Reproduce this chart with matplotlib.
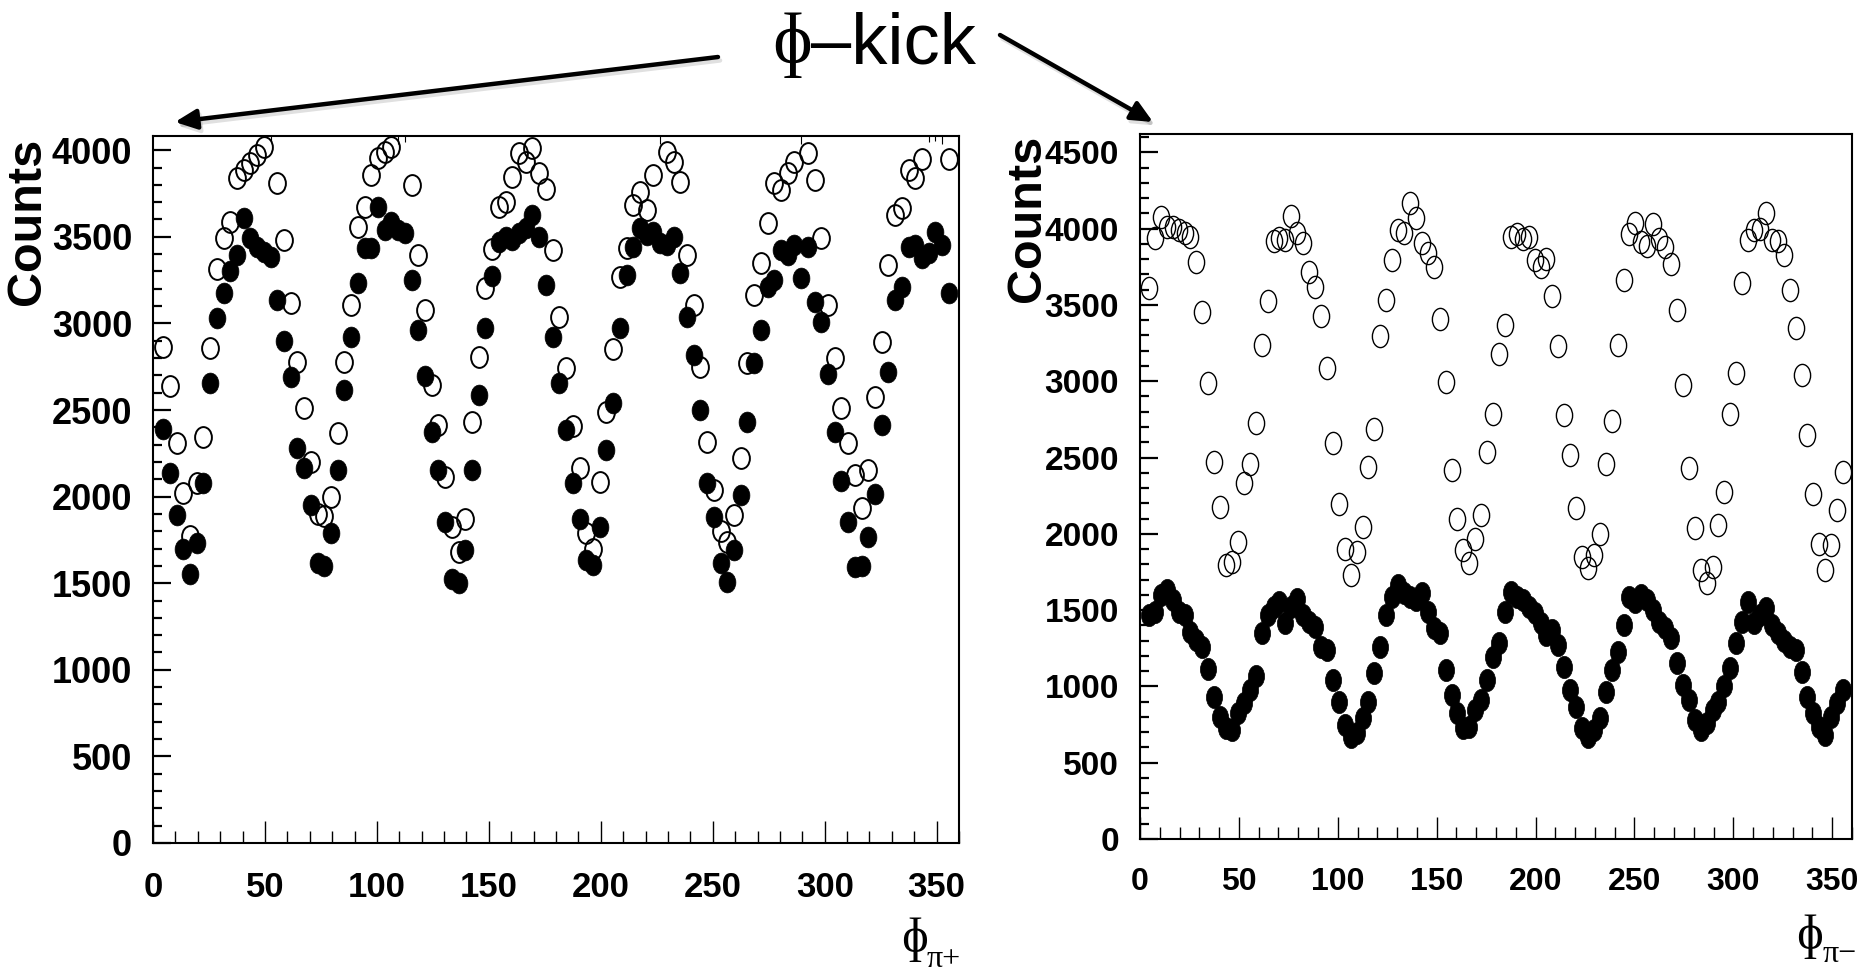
import numpy as np
import matplotlib
matplotlib.use("Agg")
import matplotlib.pyplot as plt
import matplotlib.patheffects as pe
from matplotlib import font_manager
from matplotlib.patches import FancyArrowPatch
from matplotlib.path import Path
from matplotlib.ticker import MultipleLocator

# phi bin centres, 3 degree bins (edge bins not drawn)
phi = np.arange(4.5, 356.0, 3.0)

# pi+ : open = before kick, filled = after kick
pip_open = [2864, 2639, 2310, 2020, 1770, 2078, 2344, 2858, 3314, 3493,
            3585, 3839, 3886, 3926, 3972, 4018, 4110, 3810, 3481, 3118,
            2777, 2511, 2200, 1900, 1890, 1999, 2367, 2777, 3106, 3557,
            3672, 3857, 3955, 3990, 4018, 4100, 4110, 3799, 3395, 3077,
            2644, 2413, 2113, 1826, 1680, 1869, 2431, 2808, 3203, 3428,
            3670, 3703, 3847, 3982, 3934, 4011, 3866, 3774, 3424, 3039,
            2741, 2408, 2163, 1788, 1700, 2086, 2490, 2850, 3270, 3433,
            3684, 3761, 3655, 3857, 4100, 3991, 3934, 3818, 3395, 3106,
            2750, 2317, 2040, 1800, 1740, 1894, 2221, 2770, 3164, 3347,
            3578, 3809, 3770, 3866, 3934, 4100, 3982, 3828, 3491, 3106,
            2798, 2510, 2308, 2125, 1932, 2154, 2577, 2894, 3337, 3626,
            3665, 3886, 3838, 3947, 4110, 4120, 4100, 3947]
pip_full = [2388, 2138, 1894, 1696, 1551, 1730, 2077, 2658, 3029, 3174,
            3304, 3395, 3607, 3491, 3443, 3414, 3382, 3135, 2900, 2692,
            2279, 2163, 1951, 1615, 1600, 1788, 2154, 2615, 2923, 3231,
            3433, 3433, 3670, 3539, 3587, 3539, 3520, 3250, 2962, 2696,
            2375, 2154, 1855, 1527, 1499, 1692, 2154, 2587, 2972, 3274,
            3472, 3501, 3481, 3520, 3549, 3626, 3501, 3222, 2923, 2654,
            2385, 2077, 1869, 1634, 1605, 1826, 2269, 2539, 2972, 3280,
            3443, 3549, 3510, 3530, 3462, 3452, 3501, 3292, 3039, 2818,
            2500, 2080, 1884, 1615, 1509, 1692, 2010, 2433, 2770, 2962,
            3212, 3250, 3424, 3395, 3452, 3260, 3443, 3125, 3010, 2708,
            2375, 2090, 1855, 1595, 1600, 1769, 2015, 2413, 2721, 3135,
            3212, 3443, 3452, 3376, 3405, 3530, 3452, 3177]

# pi-
pim_open = [3611, 3936, 4078, 4013, 4010, 3990, 3970, 3947, 3783, 3455,
            2990, 2473, 2177, 1795, 1817, 1948, 2335, 2457, 2728, 3237,
            3526, 3921, 3936, 3925, 4083, 3969, 3903, 3718, 3620, 3427,
            3084, 2593, 2193, 1900, 1730, 1883, 2047, 2440, 2684, 3296,
            3532, 3794, 3991, 3973, 4165, 4067, 3903, 3838, 3750, 3405,
            2996, 2421, 2100, 1893, 1810, 1969, 2122, 2536, 2788, 3181,
            3366, 3944, 3967, 3934, 3944, 3792, 3748, 3803, 3556, 3229,
            2777, 2515, 2166, 1849, 1773, 1860, 2002, 2460, 2739, 3235,
            3665, 3962, 4036, 3912, 3883, 4032, 3934, 3879, 3770, 3469,
            2978, 2428, 2035, 1762, 1679, 1783, 2056, 2274, 2788, 3054,
            3643, 3927, 3988, 3999, 4102, 3923, 3918, 3829, 3600, 3351,
            3039, 2646, 2264, 1936, 1762, 1925, 2159, 2405]
pim_full = [1467, 1489, 1598, 1631, 1565, 1489, 1467, 1358, 1303, 1259,
            1111, 932, 801, 725, 714, 823, 889, 976, 1070, 1347,
            1467, 1521, 1554, 1413, 1521, 1570, 1467, 1423, 1390, 1259,
            1238, 1041, 899, 747, 670, 692, 790, 899, 1085, 1259,
            1467, 1587, 1664, 1609, 1587, 1565, 1609, 1489, 1380, 1347,
            1107, 943, 823, 725, 736, 845, 910, 1041, 1194, 1282,
            1489, 1620, 1587, 1565, 1521, 1478, 1413, 1340, 1369, 1270,
            1128, 976, 867, 725, 670, 714, 790, 965, 1107, 1227,
            1401, 1587, 1554, 1598, 1565, 1500, 1423, 1380, 1314, 1151,
            1009, 910, 779, 714, 758, 845, 900, 1000, 1118, 1282,
            1423, 1554, 1413, 1467, 1511, 1401, 1347, 1300, 1260, 1238,
            1096, 932, 823, 736, 681, 801, 889, 976]

W, H = 1872, 972

installed = {f.name for f in font_manager.fontManager.ttflist}


def first_font(*names):
    for n in names:
        if n in installed:
            return n
    return "DejaVu Sans"


NARROW = first_font("Liberation Sans Narrow", "Arial Narrow", "Liberation Sans")
SANS = first_font("Liberation Sans", "Arial", "DejaVu Sans")
SERIF = ["Liberation Serif", "DejaVu Serif"]
is_narrow = NARROW != SANS

plt.rcParams["font.weight"] = "bold"

PHI = "\u0278"  # stroked phi


def px_box(left, top, right, bottom):
    return [left / W, 1 - bottom / H, (right - left) / W, (bottom - top) / H]


def fxy(x, y):
    return (x / W, 1 - y / H)


def tall_circle(aspect):
    c = Path.unit_circle()
    return Path(c.vertices * np.array([1.0, aspect]), c.codes)


def draw_panel(ax, y_open, y_full, ymax, aspect, ms, mew, xfs, yfs, ypad, xpad):
    y_open = np.asarray(y_open, float)
    y_full = np.asarray(y_full, float)
    marker = tall_circle(aspect)
    for y, face, edge in ((y_open, "none", mew), (y_full, "k", 0.5)):
        keep = y <= ymax
        ax.plot(phi[keep], y[keep], ls="none", marker=marker, ms=ms,
                mfc=face, mec="k", mew=edge)
        # bins above the frame only show the stub of their error bar
        if (~keep).any():
            ax.errorbar(phi[~keep], y[~keep], yerr=np.sqrt(y[~keep]),
                        fmt="none", ecolor="k", elinewidth=0.8, capsize=0)

    ax.set_xlim(0, 360)
    ax.set_ylim(0, ymax)
    ax.xaxis.set_major_locator(MultipleLocator(50))
    ax.xaxis.set_minor_locator(MultipleLocator(10))
    ax.yaxis.set_major_locator(MultipleLocator(500))
    ax.yaxis.set_minor_locator(MultipleLocator(100))
    ax.tick_params(which="both", direction="in", top=False, right=False,
                   color="k", labelfontfamily=NARROW)
    ax.tick_params(axis="y", which="major", length=13, width=1.6, pad=ypad,
                   labelsize=yfs)
    ax.tick_params(axis="y", which="minor", length=6.5, width=1.6)
    ax.tick_params(axis="x", which="major", length=16, width=1.0, pad=xpad,
                   labelsize=xfs)
    ax.tick_params(axis="x", which="minor", length=8.5, width=1.0)
    for s in ax.spines.values():
        s.set_linewidth(1.5)


def phi_label(x, y, sub, y_sub, sub_dx):
    fig.text(*fxy(x, y), PHI, ha="left", va="baseline", fontsize=35,
             fontweight="normal", family=SERIF)
    fig.text(*fxy(x + sub_dx, y_sub), sub, ha="left", va="baseline",
             fontsize=23, fontweight="normal", family=SERIF)


fig = plt.figure(figsize=(W / 100, H / 100), dpi=100)

ax1 = fig.add_axes(px_box(153, 136, 959, 843))
draw_panel(ax1, pip_open, pip_full, ymax=4082, aspect=1.24, ms=15, mew=1.4,
           xfs=30 if is_narrow else 25, yfs=33 if is_narrow else 26,
           ypad=15, xpad=20)

ax2 = fig.add_axes(px_box(1140, 134, 1852, 839))
draw_panel(ax2, pim_open, pim_full, ymax=4620, aspect=1.37, ms=16, mew=1.0,
           xfs=28 if is_narrow else 23, yfs=29 if is_narrow else 24,
           ypad=15, xpad=20)

# axis titles
fig.text(*fxy(28, 138), "Counts", rotation=90, ha="center", va="top",
         fontsize=35, fontweight="bold", family=SANS)
fig.text(*fxy(1028, 135), "Counts", rotation=90, ha="center", va="top",
         fontsize=35, fontweight="bold", family=SANS)
phi_label(901, 952, "\u03c0+", 967, 26)
phi_label(1796, 949, "\u03c0\u2212", 962, 27)

# phi-kick heading with arrows to both panels
fig.text(*fxy(772, 63), PHI, ha="left", va="baseline",
         fontsize=52, fontweight="normal", family=SERIF)
fig.text(*fxy(811, 63), "\u2013kick", ha="left", va="baseline",
         fontsize=52, fontweight="normal", family=SANS)

for tail, head in [((718, 57), (175, 122)), ((1000, 35), (1153, 122))]:
    arrow = FancyArrowPatch(fxy(*tail), fxy(*head), transform=fig.transFigure,
                            arrowstyle="-|>,head_length=0.65,head_width=0.3",
                            mutation_scale=20, lw=3.2, color="k",
                            shrinkA=0, shrinkB=0,
                            path_effects=[pe.SimpleLineShadow(offset=(1.5, -2.5), alpha=0.12),
                                          pe.Normal()])
    fig.add_artist(arrow)

fig.savefig("out.png", dpi=100, facecolor="white")
